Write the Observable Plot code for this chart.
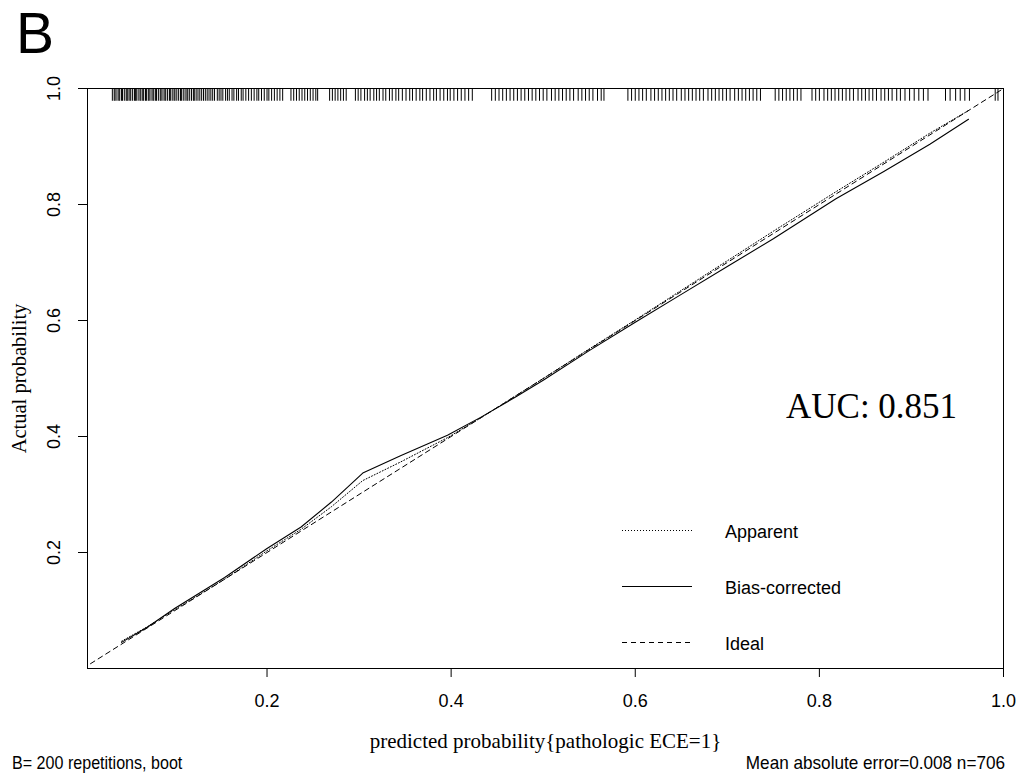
<!DOCTYPE html>
<html><head><meta charset="utf-8">
<script src="https://cdn.jsdelivr.net/npm/d3@7"></script>
<script src="https://cdn.jsdelivr.net/npm/@observablehq/plot@0.6"></script>
<style>
body{margin:0;background:#fff;}
#wrap{position:relative;width:1020px;height:775px;background:#fff;}
#overlay{position:absolute;left:0;top:0;pointer-events:none;}
</style></head><body>
<div id="wrap"><div id="chart"></div><svg id="overlay" width="1020" height="775"></svg></div>
<script>
// ---- data ----
const xTicks = [0.2, 0.4, 0.6, 0.8, 1.0];
const yTicks = [0.2, 0.4, 0.6, 0.8, 1.0];
const predicted     = [0.042,0.070,0.100,0.154,0.200,0.237,0.270,0.304,0.345,0.396,0.432,0.470,0.500,0.550,0.600,0.650,0.700,0.750,0.818,0.870,0.920,0.962];
const apparent      = [0.047,0.072,0.102,0.154,0.203,0.240,0.279,0.324,0.356,0.398,0.432,0.470,0.500,0.551,0.601,0.652,0.703,0.754,0.822,0.873,0.923,0.962];
const biasCorrected = [0.045,0.071,0.104,0.157,0.207,0.244,0.287,0.337,0.367,0.402,0.433,0.468,0.497,0.548,0.597,0.645,0.693,0.741,0.810,0.857,0.904,0.947];
const ideal = [0, 1];
const rug = [0.032,0.034,0.035,0.037,0.039,0.040,0.042,0.043,0.045,0.047,0.048,0.049,0.051,0.052,0.054,0.056,0.057,0.058,0.060,0.062,0.063,0.065,0.066,0.068,0.069,0.071,0.072,0.074,0.076,0.077,0.079,0.080,0.082,0.084,0.085,0.087,0.089,0.090,0.092,0.094,0.095,0.097,0.099,0.100,0.102,0.104,0.106,0.107,0.109,0.111,0.113,0.114,0.116,0.118,0.120,0.121,0.123,0.125,0.127,0.129,0.131,0.133,0.135,0.137,0.139,0.141,0.143,0.146,0.148,0.150,0.152,0.155,0.157,0.159,0.162,0.164,0.167,0.169,0.172,0.174,0.177,0.180,0.183,
0.186,0.189,0.191,0.194,0.197,0.200,0.202,0.205,0.208,0.211,0.214,0.217,0.226,0.229,0.232,0.235,0.238,0.241,0.244,0.247,0.250,0.253,0.255,0.268,0.271,0.274,0.277,0.280,0.283,0.286,0.296,0.299,0.302,0.306,0.309,0.312,0.316,0.319,0.322,0.326,0.329,0.333,0.336,0.340,0.343,
0.347,0.351,0.355,0.358,0.362,0.366,0.369,0.373,0.377,0.381,0.384,0.388,0.392,0.396,0.399,0.403,0.407,0.411,0.415,0.419,0.423,0.444,0.448,0.452,0.456,0.460,0.464,0.468,0.472,0.476,0.480,0.484,0.488,0.492,0.496,0.500,0.504,0.509,0.513,0.517,0.521,0.525,0.529,0.533,0.538,0.542,0.546,0.550,0.554,0.559,0.563,0.566,0.592,0.596,0.600,
0.604,0.608,0.612,0.617,0.621,0.625,0.629,0.633,0.637,0.641,0.645,0.650,0.654,0.658,0.662,0.666,0.670,0.674,0.679,0.683,0.687,0.691,0.695,0.699,0.703,0.708,0.712,0.716,0.720,0.724,0.728,0.732,0.736,0.752,0.756,0.760,0.764,0.768,0.772,0.776,0.780,0.792,0.796,0.800,0.805,0.809,0.813,0.817,0.821,0.825,0.829,0.833,0.837,0.842,0.846,0.850,0.854,0.858,0.862,0.867,0.871,0.875,0.879,0.884,0.888,0.893,0.898,0.903,0.908,0.913,0.918,0.937,0.942,0.948,0.953,0.958,0.963,0.991,0.994];
const legendLabels = ["Apparent", "Bias-corrected", "Ideal"];
const panelLetter = "B";
const aucText = "AUC: 0.851";
const xLabel = "predicted probability{pathologic ECE=1}";
const yLabel = "Actual probability";
const footLeft = "B= 200 repetitions, boot";
const footRight = "Mean absolute error=0.008 n=706";

// ---- chart ----
const sans = "'Liberation Sans',Arial,sans-serif";
const serif = "'Liberation Serif','Times New Roman',serif";
const curveRows = predicted.map((x, i) => ({x, app: apparent[i], bias: biasCorrected[i]}));
const idealRows = ideal.map(v => ({v}));

const chart = Plot.plot({
  width: 1020, height: 775,
  marginTop: 88, marginBottom: 107, marginLeft: 87, marginRight: 17,
  x: {domain: [0.005, 1]},
  y: {domain: [0, 1]},
  style: {background: "#fff", fontFamily: sans, color: "#000"},
  marks: [
    Plot.line(idealRows, {x: "v", y: "v", stroke: "#000", strokeWidth: 1, strokeDasharray: "5,4", clip: true}),
    Plot.line(curveRows, {x: "x", y: "app", stroke: "#000", strokeWidth: 1, strokeDasharray: "1,2"}),
    Plot.line(curveRows, {x: "x", y: "bias", stroke: "#000", strokeWidth: 1.1}),
    Plot.ruleX(rug, {x: d => d, y1: 1, y2: 0.978, stroke: "#000", strokeWidth: 1}),
    Plot.frame({stroke: "#000", strokeWidth: 1}),
    Plot.axisX({ticks: xTicks, tickSize: 9, tickFormat: () => "", label: null}),
    Plot.text(xTicks, {x: d => d, text: d => d.toFixed(1), frameAnchor: "bottom", dy: 33, fontSize: 18, lineAnchor: "middle", textAnchor: "middle", ariaLabel: "xticklabels"}),
    Plot.axisY({ticks: yTicks, tickSize: 9, tickFormat: () => "", label: null}),
    Plot.text(yTicks, {y: d => d, text: d => d.toFixed(1), frameAnchor: "left", dx: -33, rotate: -90, fontSize: 18, lineAnchor: "middle", textAnchor: "middle", ariaLabel: "yticklabels"}),
    Plot.text([yLabel], {text: d => d, frameAnchor: "left", dx: -68, rotate: -90, fontFamily: serif, fontSize: 20.5, lineAnchor: "middle", textAnchor: "middle"}),
    Plot.text([xLabel], {text: d => d, frameAnchor: "bottom", dy: 73, fontFamily: serif, fontSize: 21, lineAnchor: "middle", textAnchor: "middle"})
  ]
});
document.getElementById("chart").appendChild(chart);

// condense the tick labels horizontally (narrow sans in the reference)
function condense(node, s) {
  const x = +node.getAttribute("x") || 0, y = +node.getAttribute("y") || 0;
  const t = node.getAttribute("transform") || "";
  node.removeAttribute("x"); node.removeAttribute("y");
  node.setAttribute("transform", `${t} translate(${x},${y}) scale(${s},1)`);
}
chart.querySelectorAll('g[aria-label="xticklabels"] text, g[aria-label="yticklabels"] text').forEach(n => condense(n, 0.86));

// ---- annotations (panel letter, AUC, legend, footnotes) ----
const ov = d3.select("#overlay");
ov.append("text").attr("x", 16).attr("y", 53).attr("font-family", sans).attr("font-size", 57).text(panelLetter);
ov.append("text").attr("x", 786).attr("y", 418).attr("font-family", serif).attr("font-size", 35).text(aucText);
const dashes = ["1,2", null, "5,4"];
const legY = [530.5, 586.5, 642.5];
legendLabels.forEach((lab, i) => {
  const ln = ov.append("line").attr("x1", 622).attr("x2", 692).attr("y1", legY[i]).attr("y2", legY[i]).attr("stroke", "#000").attr("stroke-width", 1);
  if (dashes[i]) ln.attr("stroke-dasharray", dashes[i]);
  ov.append("text").attr("x", 725).attr("y", legY[i] + 7).attr("font-family", sans).attr("font-size", 18).text(lab);
});
ov.append("text").attr("transform", "translate(12,769) scale(0.92,1)").attr("font-family", sans).attr("font-size", 17.5).text(footLeft);
ov.append("text").attr("transform", "translate(1005,769) scale(0.98,1)").attr("text-anchor", "end").attr("font-family", sans).attr("font-size", 17.5).text(footRight);
</script>
</body></html>
